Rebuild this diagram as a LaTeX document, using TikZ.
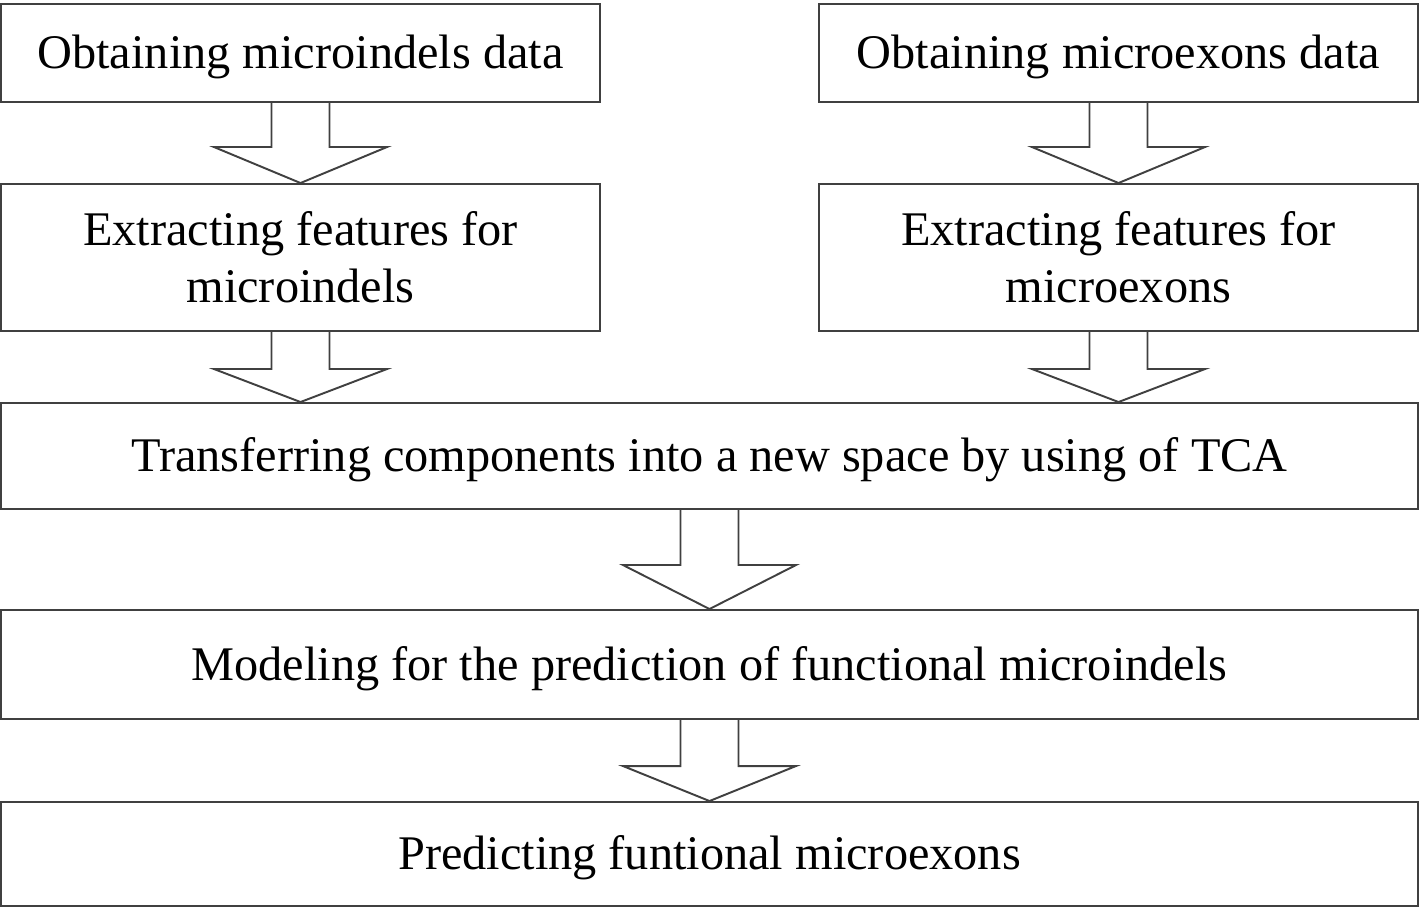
\documentclass[tikz,border=0pt]{standalone}
\usepackage{fontspec}
\setmainfont{Liberation Serif}
\usetikzlibrary{positioning,calc}

\definecolor{framegray}{HTML}{404040}

% block arrow from the bottom of one box to the top of another
\newcommand{\blockarrow}[3]{%
  \draw[flowarrow] ($(#1.south)+(-29,0)$) -- ($(#1.south |- #2.north)+(-29,#3)$)
    -- ($(#1.south |- #2.north)+(-86.5,#3)$) -- (#1.south |- #2.north)
    -- ($(#1.south |- #2.north)+(86.5,#3)$) -- ($(#1.south |- #2.north)+(29,#3)$)
    -- ($(#1.south)+(29,0)$);}

\begin{document}
\begin{tikzpicture}[x=0.02cm, y=-0.02cm,
  stepbox/.style={rectangle, draw=framegray, line width=1.1pt, fill=white,
                  align=center, font=\fontsize{27.5}{32.5}\selectfont,
                  inner sep=0pt},
  onerow/.style={stepbox, text height=18pt, text depth=0pt},
  flowarrow/.style={draw=framegray, line width=1.1pt, line join=miter}
]
\useasboundingbox (0,0) rectangle (1424,908);

% boxes
\node[onerow, minimum width=599*0.02cm, minimum height=98*0.02cm] (indeldata) at (300.5,53) {Obtaining microindels data};
\node[onerow, minimum width=599*0.02cm, minimum height=98*0.02cm] (exondata) at (1118.5,53) {Obtaining microexons data};
\node[stepbox, minimum width=599*0.02cm, minimum height=147*0.02cm] (indelfeat) at (300.5,257.5) {Extracting features for\\microindels};
\node[stepbox, minimum width=599*0.02cm, minimum height=147*0.02cm] (exonfeat) at (1118.5,257.5) {Extracting features for\\microexons};
\node[onerow, minimum width=1417*0.02cm, minimum height=106*0.02cm] (tca) at (709.5,456) {Transferring components into a new space by using of TCA};
\node[onerow, minimum width=1417*0.02cm, minimum height=109*0.02cm] (model) at (709.5,664.5) {Modeling for the prediction of functional microindels};
\node[onerow, minimum width=1417*0.02cm, minimum height=104*0.02cm] (predict) at (709.5,854) {Predicting funtional microexons};

% arrows
\blockarrow{indeldata}{indelfeat}{-36}
\blockarrow{exondata}{exonfeat}{-36}
\blockarrow{indelfeat}{tca}{-33}
\blockarrow{exonfeat}{tca}{-33}
\blockarrow{tca}{model}{-44}
\blockarrow{model}{predict}{-35}

\end{tikzpicture}
\end{document}
